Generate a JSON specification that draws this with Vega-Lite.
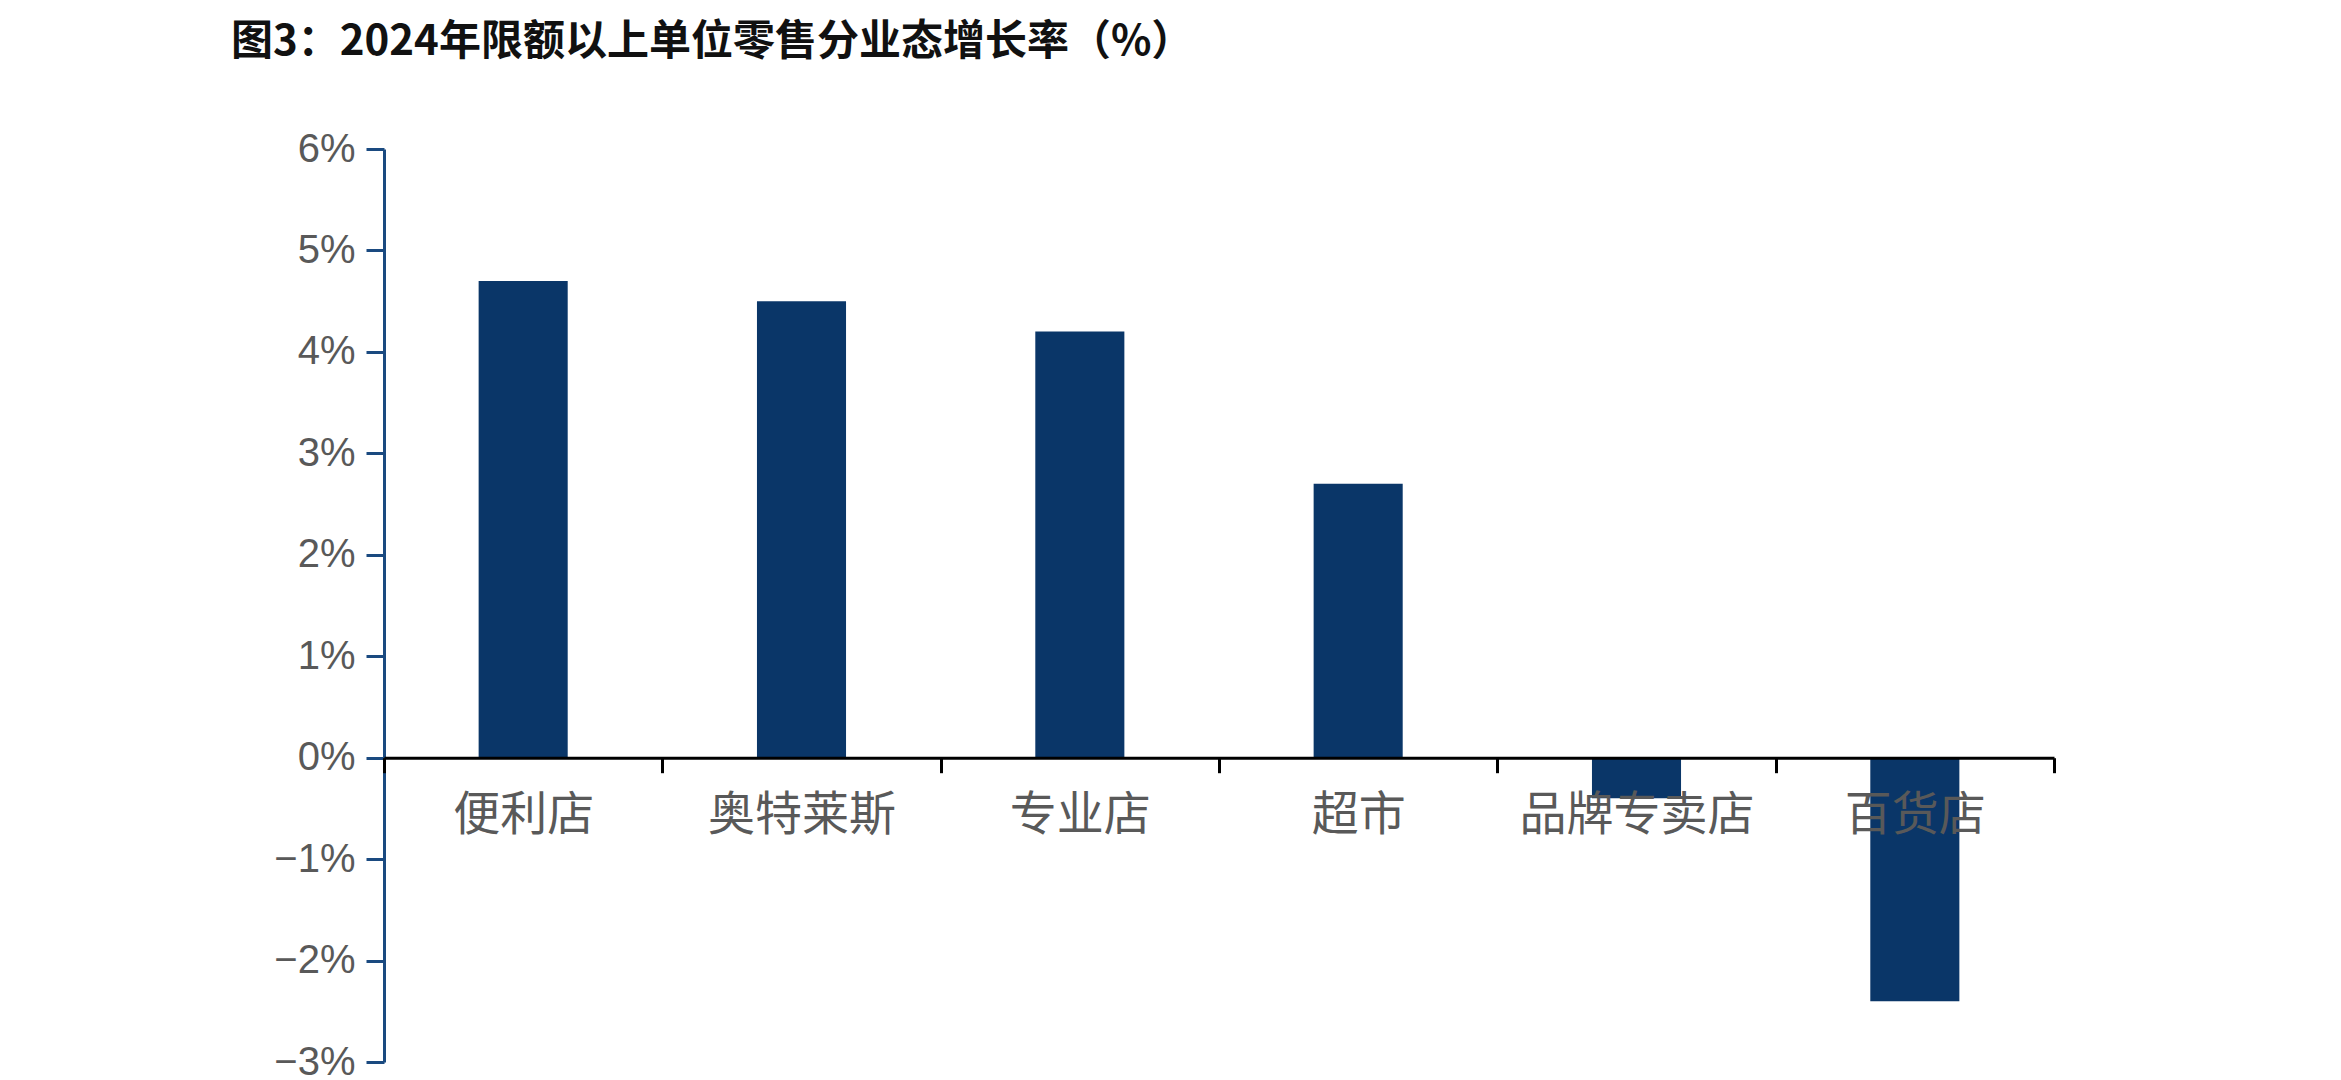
{
  "$schema": "https://vega.github.io/schema/vega-lite/v6.json",
  "width": 1670,
  "height": 913,
  "autosize": {"type": "none"},
  "padding": {"left": 384, "top": 149, "right": 287, "bottom": 18},
  "background": "white",
  "title": {
    "text": "图3：2024年限额以上单位零售分业态增长率（%）",
    "anchor": "start",
    "frame": "group",
    "dx": -153,
    "offset": 23,
    "baseline": "bottom",
    "font": "Noto Sans CJK SC",
    "fontSize": 42,
    "fontWeight": "bold",
    "color": "#111111"
  },
  "data": {
    "values": [
      {"业态": "便利店", "增长率": 4.7},
      {"业态": "奥特莱斯", "增长率": 4.5},
      {"业态": "专业店", "增长率": 4.2},
      {"业态": "超市", "增长率": 2.7},
      {"业态": "品牌专卖店", "增长率": -0.4},
      {"业态": "百货店", "增长率": -2.4}
    ]
  },
  "mark": {"type": "bar", "color": "#0a3668", "width": {"band": 0.32}},
  "encoding": {
    "x": {
      "field": "业态",
      "type": "nominal",
      "sort": null,
      "scale": {"paddingInner": 0, "paddingOuter": 0},
      "axis": {
        "orient": "bottom",
        "offset": -304.3,
        "zindex": 1,
        "domainColor": "#000000",
        "domainWidth": 3,
        "tickColor": "#000000",
        "tickWidth": 3,
        "tickSize": 15,
        "tickBand": "extent",
        "labelAngle": 0,
        "labelLimit": 0,
        "labelFont": "Noto Sans CJK SC",
        "labelFontSize": 47,
        "labelColor": "#595959",
        "labelPadding": 20,
        "title": null,
        "grid": false
      }
    },
    "y": {
      "field": "增长率",
      "type": "quantitative",
      "scale": {"domain": [-3, 6], "nice": false},
      "axis": {
        "values": [-3, -2, -1, 0, 1, 2, 3, 4, 5, 6],
        "labelExpr": "datum.value < 0 ? '−' + abs(datum.value) + '%' : datum.value + '%'",
        "domainColor": "#1a4a80",
        "domainWidth": 3,
        "tickColor": "#1a4a80",
        "tickWidth": 3,
        "tickSize": 18,
        "labelFont": "Liberation Sans Narrow, Liberation Sans",
        "labelFontSize": 40,
        "labelColor": "#595959",
        "labelPadding": 11,
        "title": null,
        "grid": false
      }
    }
  },
  "config": {"view": {"stroke": null}}
}
